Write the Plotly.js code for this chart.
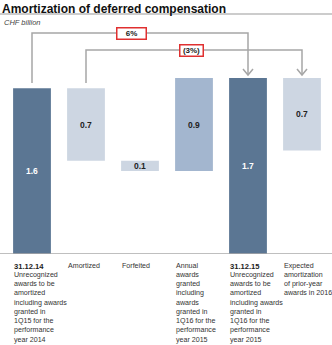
<!DOCTYPE html>
<html>
<head>
<meta charset="utf-8">
<script src="https://cdn.plot.ly/plotly-3.0.1.min.js"></script>
<style>html,body{margin:0;padding:0;background:#fff;}#chart{width:332px;height:345px;}</style>
</head>
<body>
<div id="chart"></div>
<script>
// ---- data ----
var categories = ["c0", "c1", "c2", "c3", "c4", "c5"];
var headings = ["31.12.14", "Amortized", "Forfeited", "Annual", "31.12.15", "Expected"];
var headingBold = [true, false, false, false, true, false];
var descriptions = [
  ["Unrecognized", "awards to be", "amortized", "including awards", "granted in", "1Q15 for the", "performance", "year 2014"],
  [],
  [],
  ["awards", "granted", "including", "awards", "granted in", "1Q16 for the", "performance", "year 2015"],
  ["Unrecognized", "awards to be", "amortized", "including awards", "granted in", "1Q16 for the", "performance", "year 2015"],
  ["amortization", "of prior-year", "awards in 2016"]
];
var changes = [1.6, -0.7, -0.1, 0.9, 1.7, -0.7];          // signed movement
var barKind = ["total", "delta", "delta", "delta", "total", "delta"];
var valueLabels = ["1.6", "0.7", "0.1", "0.9", "1.7", "0.7"];
var bracketFrom = [0, 1];
var bracketTo = [4, 5];
var bracketLevel = [2.133, 1.969];
var bracketLabels = ["6%", "(3%)"];
var bracketLabelPos = [1.85, 2.96];

// ---- derived waterfall geometry ----
var bases = [], heights = [], tops = [];
var running = 0;
for (var i = 0; i < changes.length; i++) {
  if (barKind[i] === "total") {
    running = changes[i];
    bases.push(0); heights.push(changes[i]); tops.push(changes[i]);
  } else {
    var start = running;
    running = running + changes[i];
    bases.push(Math.min(start, running));
    heights.push(Math.abs(changes[i]));
    tops.push(Math.max(start, running));
  }
}
var dark = "#5b7693", light = "#cdd6e2", mid = "#a3b6cf";
var colors = categories.map(function (c, i) {
  if (barKind[i] === "total") return dark;
  return changes[i] > 0 ? mid : light;
});
var textColors = colors.map(function (c) { return c === dark ? "#ffffff" : "#222222"; });
var xs = categories.map(function (c, i) { return i; });

var trace = {
  type: "bar",
  x: xs,
  y: heights,
  base: bases,
  width: 0.7,
  marker: {color: colors, line: {width: 0}},
  text: valueLabels,
  textposition: "inside",
  insidetextanchor: "middle",
  constraintext: "none",
  textfont: {family: "Liberation Sans, Arial, sans-serif", size: 8.5, color: textColors, weight: "bold"},
  hoverinfo: "none"
};

var shapes = [];
var annotations = [];
var lineColor = "#a6a6a6";
var R = 230 / 103.6;
// title rule
shapes.push({type: "line", xref: "paper", yref: "paper", x0: -5/324, x1: 1 + 3/324, y0: (254-14)/230, y1: (254-14)/230, line: {color: "#cccccc", width: 2}});
// baseline
shapes.push({type: "line", xref: "paper", yref: "y", x0: -5/324, x1: 1 + 3/324, y0: -0.005, y1: -0.005, line: {color: "#aaaaaa", width: 2.5}});

for (var b = 0; b < bracketFrom.length; b++) {
  var f = bracketFrom[b], t = bracketTo[b], lv = bracketLevel[b];
  var yStart = tops[f] + 0.05, yEnd = tops[t] + 0.028;
  shapes.push({type: "path", xref: "x", yref: "y",
    path: "M " + f + " " + yStart + " L " + f + " " + lv + " L " + t + " " + lv + " L " + t + " " + yEnd,
    line: {color: lineColor, width: 1.5}});
  var dx = 5 / 54, dy = 6 / 103.6;
  shapes.push({type: "path", xref: "x", yref: "y",
    path: "M " + (t - dx) + " " + (yEnd + dy) + " L " + t + " " + yEnd + " L " + (t + dx) + " " + (yEnd + dy),
    line: {color: lineColor, width: 1.5}});
  annotations.push({xref: "x", yref: "y", x: bracketLabelPos[b], y: lv, text: "<b>" + bracketLabels[b] + "</b>",
    showarrow: false, bgcolor: "#ffffff", bordercolor: "#e03030", borderwidth: 1.5, borderpad: 0,
    width: b === 0 ? 28 : 22, height: 10,
    font: {family: "Liberation Sans, Arial, sans-serif", size: 8, color: "#222"}});
}

// category labels
var lblFont = "Liberation Sans Narrow, Arial Narrow, sans-serif";
var fs = 7.1, lineH = fs * 1.3;
var topPx = 260;
for (var k = 0; k < categories.length; k++) {
  annotations.push({xref: "x", yref: "paper", x: k - 0.37, y: (254 - topPx) / 230, xanchor: "left", yanchor: "top",
    align: "left", showarrow: false,
    text: headingBold[k] ? "<b>" + headings[k] + "</b>" : headings[k],
    font: headingBold[k] ? {family: "Liberation Sans, Arial, sans-serif", size: 7.6, color: "#222"}
                         : {family: lblFont, size: fs, color: "#333333"}});
  if (descriptions[k].length) {
    annotations.push({xref: "x", yref: "paper", x: k - 0.37, y: (254 - topPx - lineH) / 230, xanchor: "left", yanchor: "top",
      align: "left", showarrow: false, text: descriptions[k].join("<br>"),
      font: {family: lblFont, size: fs, color: "#333333"}});
  }
}
// unit label
annotations.push({xref: "paper", yref: "paper", x: -3/324, y: (254-22)/230, xanchor: "left", yanchor: "middle",
  showarrow: false, text: "<i>CHF billion</i>", font: {family: lblFont, size: 7.5, color: "#444"}});

var layout = {
  width: 332, height: 345,
  margin: {l: 5, r: 3, t: 24, b: 91, pad: 0},
  paper_bgcolor: "#ffffff", plot_bgcolor: "#ffffff",
  title: {text: "<b>Amortization of deferred compensation</b>", x: 2/332, xanchor: "left", xref: "container",
    y: 1 - 9/345, yref: "container", yanchor: "middle",
    font: {family: "Liberation Sans, Arial, sans-serif", size: 12, color: "#111"}},
  xaxis: {range: [-0.5, 5.5], showticklabels: false, showgrid: false, zeroline: false, showline: false, ticks: "", fixedrange: true},
  yaxis: {range: [0, R], showticklabels: false, showgrid: false, zeroline: false, showline: false, ticks: "", fixedrange: true},
  showlegend: false,
  bargap: 0.3,
  shapes: shapes,
  annotations: annotations
};
Plotly.newPlot("chart", [trace], layout, {staticPlot: true, displayModeBar: false});
</script>
</body>
</html>
